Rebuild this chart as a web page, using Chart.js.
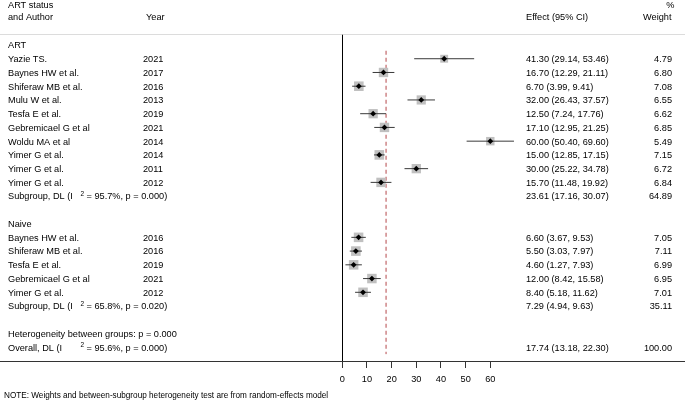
<!DOCTYPE html>
<html>
<head>
<meta charset="utf-8">
<script src="https://cdn.jsdelivr.net/npm/chart.js@4/dist/chart.umd.min.js"></script>
<style>
  html, body { margin: 0; padding: 0; background: #fff; }
  #wrap { width: 685px; height: 401px; position: relative; }
</style>
</head>
<body>
<div id="wrap"><canvas id="c" width="685" height="401"></canvas></div>
<script>
// ---------- DATA ----------
const artAuthors = ["Yazie TS.", "Baynes HW et al.", "Shiferaw MB et al.", "Mulu W et al.", "Tesfa E et al.", "Gebremicael G et al", "Woldu MA et al", "Yimer G et al.", "Yimer G et al.", "Yimer G et al."];
const artYears = ["2021", "2017", "2016", "2013", "2019", "2021", "2014", "2014", "2011", "2012"];
const artEst = [41.30, 16.70, 6.70, 32.00, 12.50, 17.10, 60.00, 15.00, 30.00, 15.70];
const artLo  = [29.14, 12.29, 3.99, 26.43, 7.24, 12.95, 50.40, 12.85, 25.22, 11.48];
const artHi  = [53.46, 21.11, 9.41, 37.57, 17.76, 21.25, 69.60, 17.15, 34.78, 19.92];
const artWt  = [4.79, 6.80, 7.08, 6.55, 6.62, 6.85, 5.49, 7.15, 6.72, 6.84];

const naiveAuthors = ["Baynes HW et al.", "Shiferaw MB et al.", "Tesfa E et al.", "Gebremicael G et al", "Yimer G et al."];
const naiveYears = ["2016", "2016", "2019", "2021", "2012"];
const naiveEst = [6.60, 5.50, 4.60, 12.00, 8.40];
const naiveLo  = [3.67, 3.03, 1.27, 8.42, 5.18];
const naiveHi  = [9.53, 7.97, 7.93, 15.58, 11.62];
const naiveWt  = [7.05, 7.11, 6.99, 6.95, 7.01];

const subgroupNames = ["ART", "Naive"];
const subgroupEst = [23.61, 7.29];
const subgroupLo  = [17.16, 4.94];
const subgroupHi  = [30.07, 9.63];
const subgroupWt  = [64.89, 35.11];
const subgroupI2  = ["95.7%", "65.8%"];
const subgroupP   = ["0.000", "0.020"];

const overallEst = 17.74, overallLo = 13.18, overallHi = 22.30, overallWt = 100.00;
const overallI2 = "95.6%", overallP = "0.000";
const betweenP = "0.000";

const xTickValues = [0, 10, 20, 30, 40, 50, 60];

// ---------- ROW LAYOUT ----------
const rows = [];
let r = 0;
const groups = [
  {authors: artAuthors, years: artYears, est: artEst, lo: artLo, hi: artHi, wt: artWt},
  {authors: naiveAuthors, years: naiveYears, est: naiveEst, lo: naiveLo, hi: naiveHi, wt: naiveWt}
];
groups.forEach((g, gi) => {
  rows.push({y: r++, kind: 'header', author: subgroupNames[gi]});
  g.authors.forEach((a, i) => {
    rows.push({y: r++, kind: 'study', author: a, year: g.years[i], est: g.est[i], lo: g.lo[i], hi: g.hi[i], wt: g.wt[i]});
  });
  rows.push({y: r++, kind: 'sub', author: 'Subgroup, DL (I', sup: '2', rest: '= ' + subgroupI2[gi] + ', p = ' + subgroupP[gi] + ')',
             est: subgroupEst[gi], lo: subgroupLo[gi], hi: subgroupHi[gi], wt: subgroupWt[gi]});
  r++; // blank
});
rows.push({y: r++, kind: 'text', author: 'Heterogeneity between groups: p = ' + betweenP});
rows.push({y: r++, kind: 'sub', author: 'Overall, DL (I', sup: '2', rest: '= ' + overallI2 + ', p = ' + overallP + ')',
           est: overallEst, lo: overallLo, hi: overallHi, wt: overallWt});
const lastRow = r;

const studies = rows.filter(d => d.kind === 'study');
const ciSegments = [];
studies.forEach(d => { ciSegments.push({x: d.lo, y: d.y}, {x: d.hi, y: d.y}, {x: d.hi, y: null}); });

// ---------- PLUGIN: text + reference lines ----------
const FONT = '"Liberation Sans", Arial, Helvetica, sans-serif';
const textPlugin = {
  id: 'forestText',
  beforeDatasetsDraw(chart) {
    const ctx = chart.ctx, ca = chart.chartArea;
    ctx.save();
    ctx.strokeStyle = '#dcdcdc';
    ctx.lineWidth = 1;
    ctx.beginPath();
    ctx.moveTo(0, ca.top + 0.5);
    ctx.lineTo(chart.width, ca.top + 0.5);
    ctx.stroke();
    ctx.restore();
  },
  afterDraw(chart) {
    const ctx = chart.ctx;
    const ys = chart.scales.y;
    ctx.save();
    ctx.fillStyle = '#000';
    ctx.textBaseline = 'middle';
    const f = '9.2px ' + FONT;
    ctx.font = f;
    ctx.textAlign = 'left';
    ctx.fillText('ART status', 8, 5);
    ctx.fillText('and Author', 8, 17.5);
    ctx.fillText('Year', 146, 17.5);
    ctx.fillText('Effect (95% CI)', 526, 17.5);
    ctx.textAlign = 'right';
    ctx.fillText('%', 674.5, 5);
    ctx.fillText('Weight', 671.5, 17.5);

    rows.forEach(d => {
      const py = ys.getPixelForValue(d.y) + 0.8;
      ctx.font = f;
      ctx.textAlign = 'left';
      ctx.fillText(d.author, 8, py);
      if (d.kind === 'study') ctx.fillText(d.year, 143, py);
      if (d.kind === 'sub') {
        ctx.font = '6.5px ' + FONT;
        ctx.fillText(d.sup, 80.5, py - 3);
        ctx.font = f;
        ctx.fillText(d.rest, 86.5, py);
      }
      if (d.est !== undefined) {
        ctx.fillText(d.est.toFixed(2) + ' (' + d.lo.toFixed(2) + ', ' + d.hi.toFixed(2) + ')', 526, py);
        ctx.textAlign = 'right';
        ctx.fillText(d.wt.toFixed(2), 672, py);
      }
    });
    ctx.font = '8.2px ' + FONT;
    ctx.textAlign = 'left';
    ctx.fillText('NOTE: Weights and between-subgroup heterogeneity test are from random-effects model', 4, 396);
    ctx.restore();
  }
};

// ---------- CHART ----------
const unit = 148 / 60;
const xMin = -342.3 / unit, xMax = (685 - 342.3) / unit;

new Chart(document.getElementById('c'), {
  type: 'scatter',
  data: {
    datasets: [
      {
        data: studies.map(d => ({x: d.est, y: d.y})),
        pointStyle: 'rectRot', pointRadius: 2.9, backgroundColor: '#000', borderWidth: 0
      },
      {
        type: 'line',
        data: ciSegments, spanGaps: false, showLine: true,
        borderColor: '#3a3a3a', borderWidth: 1, pointRadius: 0, fill: false, tension: 0
      },
      {
        data: studies.map(d => ({x: d.est, y: d.y})),
        pointStyle: 'rect',
        pointRadius: c => { const w = studies[c.dataIndex] ? studies[c.dataIndex].wt : 0; return 3.6 * Math.sqrt(w) / Math.SQRT2; },
        backgroundColor: '#c0c0c0', borderWidth: 0
      },
      {
        type: 'line',
        data: [{x: overallEst, y: 0.42}, {x: overallEst, y: 22.5}],
        borderColor: '#b5474b', borderWidth: 1, borderDash: [4, 3], pointRadius: 0, showLine: true, fill: false
      }
    ]
  },
  options: {
    responsive: false,
    animation: false,
    devicePixelRatio: 1,
    layout: { autoPadding: false, padding: { top: 34, left: 0, right: 0, bottom: 0 } },
    plugins: { legend: { display: false }, tooltip: { enabled: false } },
    scales: {
      x: {
        type: 'linear', min: xMin, max: xMax,
        afterBuildTicks: s => { s.ticks = xTickValues.map(v => ({value: v})); },
        afterFit: s => { s.height = 40; s.paddingLeft = 0; s.paddingRight = 0; },
        border: { display: true, color: '#333', width: 1 },
        grid: {
          drawOnChartArea: true,
          color: c => (c.tick && c.tick.value === 0) ? '#000' : 'rgba(0,0,0,0)',
          tickColor: '#333', tickLength: 7, lineWidth: 1
        },
        ticks: { color: '#000', font: { family: FONT, size: 9.2 }, padding: 6, maxRotation: 0, autoSkip: false,
                 callback: v => String(v) }
      },
      y: {
        type: 'linear', display: false, reverse: true, min: -0.8, max: lastRow
      }
    }
  },
  plugins: [textPlugin]
});
</script>
</body>
</html>
